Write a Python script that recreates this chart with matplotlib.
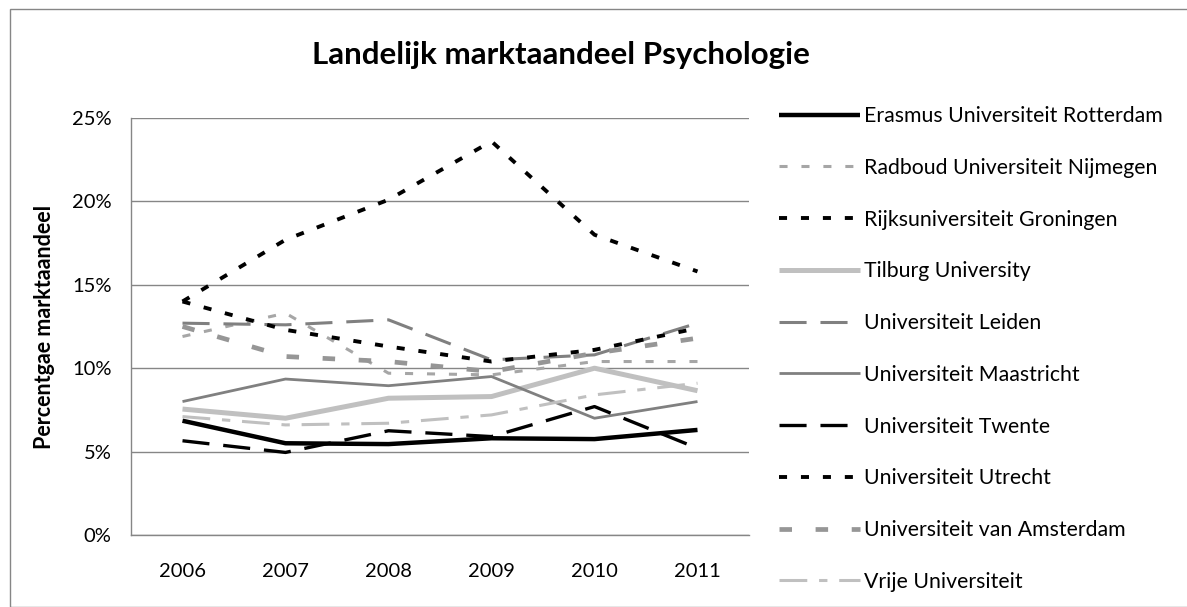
import matplotlib
matplotlib.use("Agg")
import matplotlib.pyplot as plt
from matplotlib.patches import Rectangle
from matplotlib.ticker import FuncFormatter

plt.rcParams["font.family"] = ["Lato", "DejaVu Sans"]
plt.rcParams["lines.scale_dashes"] = False

YEARS = ["2006", "2007", "2008", "2009", "2010", "2011"]

ERASMUS = [6.85, 5.5, 5.45, 5.8, 5.75, 6.3]
RADBOUD = [11.9, 13.3, 9.7, 9.6, 10.4, 10.4]
GRONINGEN = [14.0, 17.7, 20.1, 23.6, 18.0, 15.8]
TILBURG = [7.55, 7.0, 8.2, 8.3, 10.0, 8.65]
LEIDEN = [12.7, 12.6, 12.9, 10.5, 10.8, 12.7]
MAASTRICHT = [8.0, 9.35, 8.95, 9.5, 7.0, 8.0]
TWENTE = [5.65, 4.95, 6.25, 5.9, 7.7, 5.2]
UTRECHT = [14.0, 12.3, 11.3, 10.4, 11.1, 12.4]
AMSTERDAM = [12.5, 10.7, 10.4, 9.8, 10.9, 11.8]
VRIJE = [7.1, 6.6, 6.7, 7.2, 8.4, 9.1]

SERIES = [
    ("Erasmus Universiteit Rotterdam", ERASMUS, "#000000", 3.2, "-"),
    ("Radboud Universiteit Nijmegen", RADBOUD, "#A6A6A6", 2.2, (0, (5.8, 10))),
    ("Rijksuniversiteit Groningen", GRONINGEN, "#000000", 2.8, (0, (5.8, 10))),
    ("Tilburg University", TILBURG, "#C0C0C0", 3.6, "-"),
    ("Universiteit Leiden", LEIDEN, "#808080", 2.2, (0, (19.5, 10))),
    ("Universiteit Maastricht", MAASTRICHT, "#808080", 2.0, "-"),
    ("Universiteit Twente", TWENTE, "#000000", 2.4, (0, (19.5, 10))),
    ("Universiteit Utrecht", UTRECHT, "#000000", 2.8, (0, (5.8, 10))),
    ("Universiteit van Amsterdam", AMSTERDAM, "#969696", 3.4, (0, (9, 17))),
    ("Vrije Universiteit", VRIJE, "#C0C0C0", 2.2, (0, (20, 8.5, 6, 8.5))),
]

W, H = 1187, 607
fig = plt.figure(figsize=(W / 100, H / 100), dpi=100, facecolor="white")
ax = fig.add_axes([131 / W, 1 - 535 / H, (749 - 131) / W, (535 - 118) / H])

# outer chart border
fig.patches.append(Rectangle((10 / W, 0), 2, 1 - 9 / H, transform=fig.transFigure,
                             fill=False, edgecolor="#868686", lw=1.0))

x = list(range(len(YEARS)))
for name, vals, col, lw, ls in SERIES:
    ax.plot(x, vals, color=col, lw=lw, linestyle=ls, label=name,
            solid_capstyle="butt", dash_capstyle="butt")

ax.set_xlim(-0.5, len(YEARS) - 0.5)
ax.set_ylim(0, 25)
ax.set_yticks([0, 5, 10, 15, 20, 25])
ax.yaxis.set_major_formatter(FuncFormatter(lambda v, p: f"{v:.0f}%"))
ax.set_xticks(x)
ax.set_xticklabels(YEARS)
ax.grid(axis="y", color="#868686", lw=1.0)
ax.set_axisbelow(True)
ax.tick_params(length=0, labelsize=14.5, colors="#000000")
ax.tick_params(axis="y", pad=14)
ax.tick_params(axis="x", pad=20)
for side in ("top", "right"):
    ax.spines[side].set_visible(False)
for side in ("left", "bottom"):
    ax.spines[side].set_color("#868686")
    ax.spines[side].set_linewidth(1.0)

ax.set_ylabel("Percentgae marktaandeel", fontsize=15.5, fontweight="bold", labelpad=12)

fig.text(561 / W, 1 - 55 / H, "Landelijk marktaandeel Psychologie",
         ha="center", va="center", fontsize=22.5, fontweight="bold")

leg = ax.legend(loc="upper left", bbox_to_anchor=(779 / W, 1 - 106 / H),
                bbox_transform=fig.transFigure, frameon=False, fontsize=15.3,
                handlelength=3.8, handletextpad=0.18, labelspacing=1.495,
                borderaxespad=0, borderpad=0)

fig.savefig("out.png", dpi=100, facecolor="white")
